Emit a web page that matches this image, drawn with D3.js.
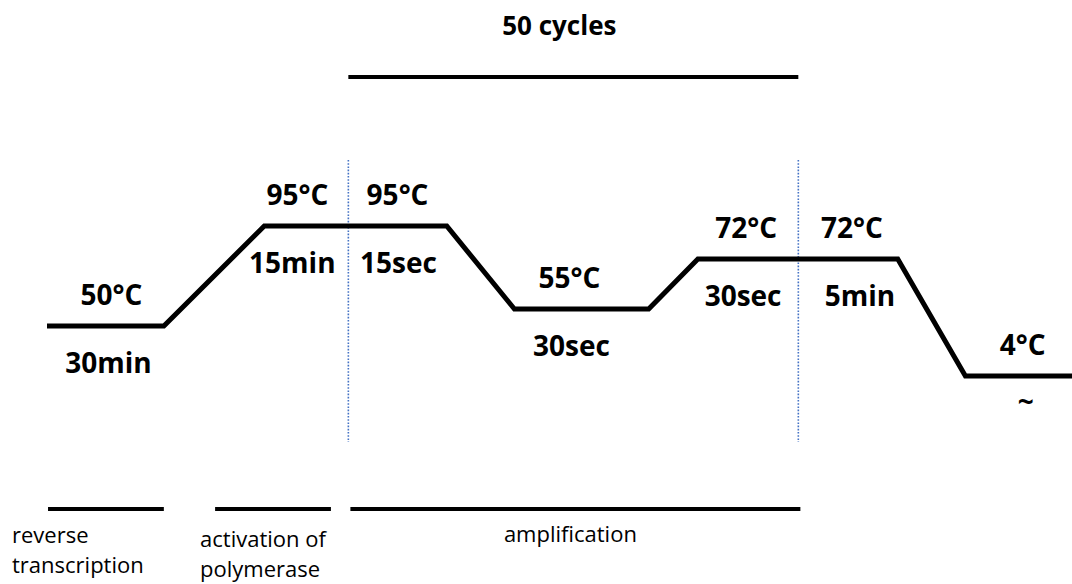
<!DOCTYPE html>
<html>
<head>
<meta charset="utf-8">
<script src="https://cdn.jsdelivr.net/npm/d3@7"></script>
<style>
  body { margin: 0; background: #fff; }
  svg { display: block; }
</style>
</head>
<body>
<div id="chart"></div>
<script>
// PCR thermal profile
const temps = [50, 95, 95, 55, 72, 72, 4];
const tempLabels = ["50°C", "95°C", "95°C", "55°C", "72°C", "72°C", "4°C"];
const durations = ["30min", "15min", "15sec", "30sec", "30sec", "5min", "~"];
// schematic time: start / end of each hold (arbitrary units 0..100)
const holdStart = [0, 21.2, 29.4, 45.6, 63.5, 73.3, 89.6];
const holdEnd = [11.4, 29.4, 39.0, 58.7, 73.3, 83.0, 100];

const cycleCount = 50;
const cycleStart = 29.4;
const cycleEnd = 73.3;

const stageNames = [["reverse", "transcription"], ["activation of", "polymerase"], ["amplification"]];
const stageStart = [0.1, 16.4, 29.6];
const stageEnd = [11.4, 27.7, 73.5];

const width = 1072,
  height = 584;

// label nudges (px), to follow the original layout
const tempDx = [6, -9, 0, -12, -2, 4, 4];
const durDx = [3, -14, 1, -10, -5, 12, 7];
const stageAnchor = ["start", "start", "middle"];
const stageDx = [-36, -15, -5];
const stageY = [543, 547, 542];

const x = d3.scaleLinear()
  .domain([0, 100])
  .range([47, 1072]);

// schematic, not proportional: each temperature gets its own level
const y = d3.scaleLinear()
  .domain([4, 50, 55, 72, 95])
  .range([376, 326, 309, 259, 226]);

const svg = d3.select("#chart")
  .append("svg")
  .attr("width", width)
  .attr("height", height);

const steps = temps.map((t, i) => ({
  temp: t,
  label: tempLabels[i],
  dur: durations[i],
  x0: holdStart[i],
  x1: holdEnd[i],
  i: i
}));

// profile line
const pts = [];
steps.forEach(d => {
  pts.push([d.x0, d.temp]);
  pts.push([d.x1, d.temp]);
});

const line = d3.line()
  .x(d => x(d[0]))
  .y(d => y(d[1]));

// dotted cycle boundaries
svg.selectAll("line.cyc")
  .data([cycleStart, cycleEnd])
  .join("line")
  .attr("class", "cyc")
  .attr("x1", d => x(d))
  .attr("x2", d => x(d))
  .attr("y1", 160)
  .attr("y2", 442)
  .attr("stroke", "#4472C4")
  .attr("stroke-width", 1.6)
  .attr("stroke-dasharray", "1.6,1.6");

svg.append("path")
  .datum(pts)
  .attr("d", line)
  .attr("fill", "none")
  .attr("stroke", "black")
  .attr("stroke-width", 5)
  .attr("stroke-linejoin", "miter");

const bold = svg.append("g")
  .attr("font-family", "'Open Sans', sans-serif")
  .attr("font-weight", "bold")
  .attr("font-size", 28)
  .attr("text-anchor", "middle")
  .attr("fill", "black");

bold.selectAll("text.temp")
  .data(steps)
  .join("text")
  .attr("class", "temp")
  .attr("x", d => x((d.x0 + d.x1) / 2) + tempDx[d.i])
  .attr("y", d => y(d.temp) - 21)
  .text(d => d.label);

bold.selectAll("text.dur")
  .data(steps)
  .join("text")
  .attr("class", "dur")
  .attr("x", d => x((d.x0 + d.x1) / 2) + durDx[d.i])
  .attr("y", d => y(d.temp) + (d.dur === "~" ? 36 : 47))
  .text(d => d.dur);

// 50 cycles bracket
svg.append("line")
  .attr("x1", x(cycleStart))
  .attr("x2", x(cycleEnd))
  .attr("y1", 77)
  .attr("y2", 77)
  .attr("stroke", "black")
  .attr("stroke-width", 4);

svg.append("text")
  .attr("x", (x(cycleStart) + x(cycleEnd)) / 2 - 14)
  .attr("y", 35)
  .attr("text-anchor", "middle")
  .attr("font-family", "'Open Sans', sans-serif")
  .attr("font-weight", "bold")
  .attr("font-size", 26)
  .text(cycleCount + " cycles");

// stages underneath
const stages = stageNames.map((n, i) => ({ lines: n, x0: stageStart[i], x1: stageEnd[i], i: i }));

svg.selectAll("line.stage")
  .data(stages)
  .join("line")
  .attr("class", "stage")
  .attr("x1", d => x(d.x0))
  .attr("x2", d => x(d.x1))
  .attr("y1", 509)
  .attr("y2", 509)
  .attr("stroke", "black")
  .attr("stroke-width", 4);

const stageText = svg.selectAll("text.stage")
  .data(stages)
  .join("text")
  .attr("class", "stage")
  .attr("text-anchor", d => stageAnchor[d.i])
  .attr("font-family", "'Open Sans', sans-serif")
  .attr("font-size", 22)
  .attr("fill", "black")
  .attr("transform", d => {
    const ax = stageAnchor[d.i] === "start" ? x(d.x0) : (x(d.x0) + x(d.x1)) / 2;
    return `translate(${ax + stageDx[d.i]}, ${stageY[d.i]})`;
  });

stageText.selectAll("tspan")
  .data(d => d.lines)
  .join("tspan")
  .attr("x", 0)
  .attr("dy", (d, j) => j === 0 ? 0 : 30)
  .text(d => d);
</script>
</body>
</html>
